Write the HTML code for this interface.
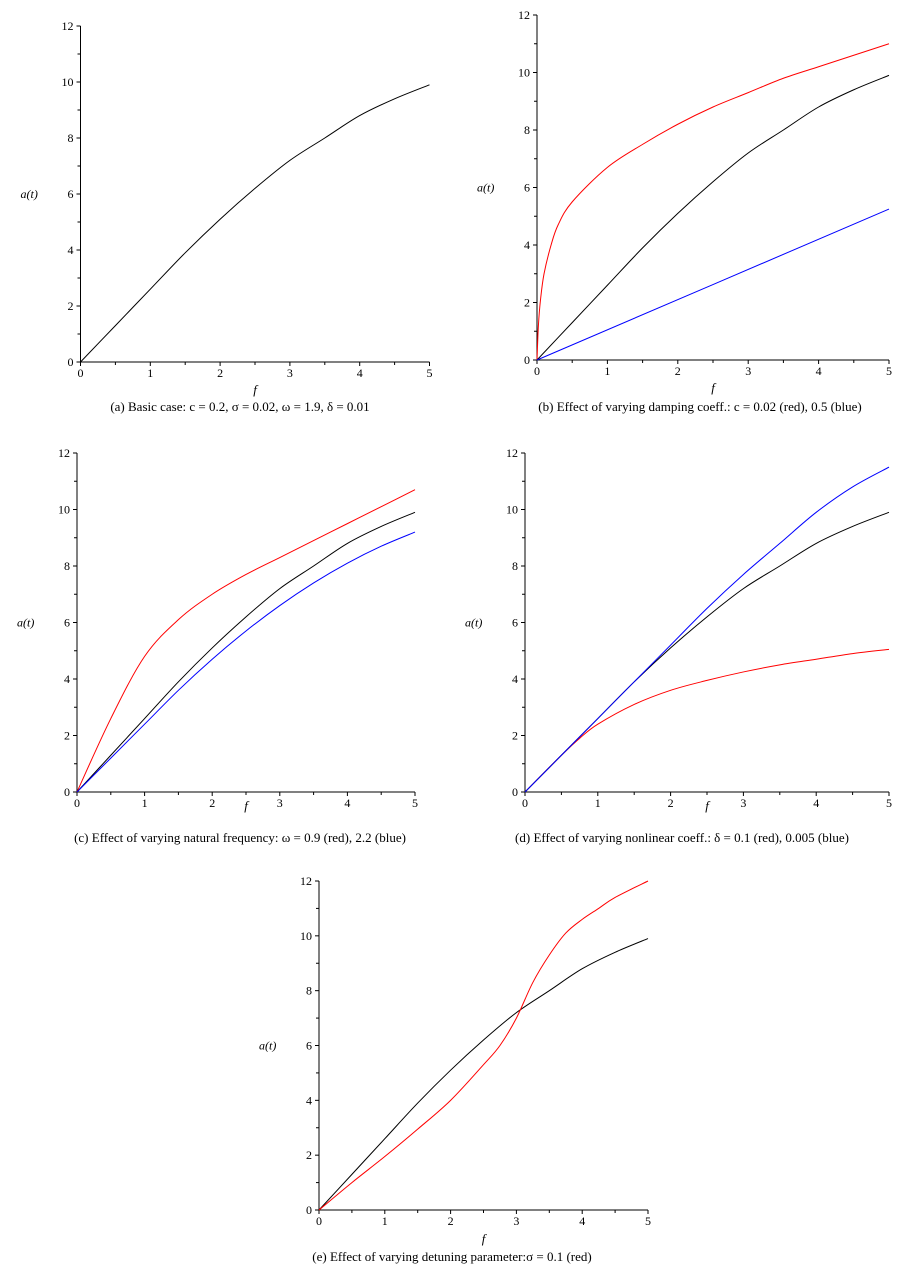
<!DOCTYPE html>
<html><head><meta charset="utf-8"><style>
body{margin:0;background:#fff;}
svg{display:block;font-family:"Liberation Serif",serif;}
</style></head><body>
<svg id="chart" width="899" height="1282" viewBox="0 0 899 1282" xmlns="http://www.w3.org/2000/svg"></svg>
<script>
const xTicks=[0,1,2,3,4,5];
const yTicks=[0,2,4,6,8,10,12];
const fBase=[0,0.5,1,1.5,2,2.5,3,3.5,4,4.5,5];
const blackVals=[0,1.3,2.6,3.9,5.1,6.2,7.2,8.0,8.8,9.4,9.9];
const redBx=[0,0.02,0.05,0.1,0.2,0.3,0.5,1,1.5,2,2.5,3,3.5,4,4.5,5];
const redBy=[0,1.2,2.1,3.0,4.0,4.7,5.5,6.7,7.5,8.2,8.8,9.3,9.8,10.2,10.6,11.0];
const blueBx=[0,5];
const blueBy=[0,5.25];
const redCy=[0,2.6,4.8,6.1,7.0,7.7,8.3,8.9,9.5,10.1,10.7];
const blueCy=[0,1.2,2.4,3.6,4.7,5.7,6.6,7.4,8.1,8.7,9.2];
const redDx=[0,0.5,0.75,1,1.5,2,2.5,3,3.5,4,4.5,5];
const redDy=[0,1.3,1.9,2.4,3.1,3.6,3.95,4.25,4.5,4.7,4.9,5.05];
const blueDy=[0,1.3,2.6,3.9,5.2,6.5,7.7,8.8,9.9,10.8,11.5];
const redEx=[0,0.5,1,1.5,2,2.5,2.75,3,3.25,3.5,3.75,4,4.25,4.5,5];
const redEy=[0,1.0,1.95,2.95,4.0,5.3,6.0,7.0,8.3,9.3,10.1,10.6,11.0,11.4,12.0];

const svg=document.getElementById('chart');
const NS='http://www.w3.org/2000/svg';
function mk(tag,attrs,parent){const e=document.createElementNS(NS,tag);for(const k in attrs)e.setAttribute(k,attrs[k]);(parent||svg).appendChild(e);return e;}
function smooth(pts){let d='M'+pts[0][0]+','+pts[0][1];for(let i=0;i<pts.length-1;i++){const p0=pts[Math.max(0,i-1)],p1=pts[i],p2=pts[i+1],p3=pts[Math.min(pts.length-1,i+2)];const c1=[p1[0]+(p2[0]-p0[0])/6,p1[1]+(p2[1]-p0[1])/6],c2=[p2[0]-(p3[0]-p1[0])/6,p2[1]-(p3[1]-p1[1])/6];d+=' C'+c1[0]+','+c1[1]+' '+c2[0]+','+c2[1]+' '+p2[0]+','+p2[1];}return d;}

function panel(id,x0,x5,y0,y12,fy,capY,capX,caption,series){
  const g=mk('g',{});
  
  
  const sx=v=>x0+(x5-x0)*v/5, sy=v=>y0-(y0-y12)*v/12;
  const ax=mk('path',{d:`M${x0},${y12}V${y0}H${x5}`,stroke:'#000',fill:'none','stroke-width':1},g);
  
  
  for(let i=0;i<=10;i++){const x=sx(i/2);mk('line',{x1:x,x2:x,y1:y0,y2:y0+(i%2?3:4),stroke:'#000'},g);}
  for(let i=0;i<=12;i++){const y=sy(i);mk('line',{x1:x0-(i%2?3:4),x2:x0,y1:y,y2:y,stroke:'#000'},g);}
  xTicks.forEach(v=>{const t=mk('text',{x:sx(v),y:y0+15,'font-size':12,'text-anchor':'middle'},g);t.textContent=v;
    
    });
  yTicks.forEach(v=>{const t=mk('text',{x:x0-7,y:sy(v)+4,'font-size':12,'text-anchor':'end'},g);t.textContent=v;
    
    });
  const yl=mk('text',{x:x0-60,y:sy(6)+4,'font-size':12,'font-style':'italic'},g);yl.textContent='a(t)';
  
  
  const xl=mk('text',{x:(x0+x5)/2,y:fy,'font-size':13,'font-style':'italic','text-anchor':'middle'},g);xl.textContent='f';
  
  
  const cp=mk('text',{x:capX,y:capY,'font-size':13,'text-anchor':'middle'},g);cp.textContent=caption;
  
  
  series.forEach(s=>{const pts=s.x.map((v,i)=>[sx(v),sy(s.y[i])]);
    const p=mk('path',{d:smooth(pts),stroke:s.c,fill:'none','stroke-width':1},g);
    
    });
}
panel('a',80.5,429.5,362,26,394,411,240,'(a) Basic case: c = 0.2, σ = 0.02, ω = 1.9, δ =  0.01',[{x:fBase,y:blackVals,c:'#000',n:'basic'}]);
panel('b',537,889,360,15,392,411,700,'(b) Effect of varying damping coeff.: c = 0.02 (red), 0.5 (blue)',[{x:redBx,y:redBy,c:'#f00',n:'c-0.02'},{x:fBase,y:blackVals,c:'#000',n:'basic'},{x:blueBx,y:blueBy,c:'#00f',n:'c-0.5'}]);
panel('c',77,415,792,453,810,842,240,'(c) Effect of varying natural frequency: ω = 0.9 (red), 2.2 (blue)',[{x:fBase,y:redCy,c:'#f00',n:'omega-0.9'},{x:fBase,y:blackVals,c:'#000',n:'basic'},{x:fBase,y:blueCy,c:'#00f',n:'omega-2.2'}]);
panel('d',525,889,792,453,810,842,682,'(d) Effect of varying nonlinear coeff.: δ = 0.1 (red), 0.005 (blue)',[{x:redDx,y:redDy,c:'#f00',n:'delta-0.1'},{x:fBase,y:blackVals,c:'#000',n:'basic'},{x:fBase,y:blueDy,c:'#00f',n:'delta-0.005'}]);
panel('e',319,648,1210,881,1243,1261,452,'(e) Effect of varying detuning parameter:σ = 0.1 (red)',[{x:fBase,y:blackVals,c:'#000',n:'basic'},{x:redEx,y:redEy,c:'#f00',n:'sigma-0.1'}]);
</script>
</body></html>
